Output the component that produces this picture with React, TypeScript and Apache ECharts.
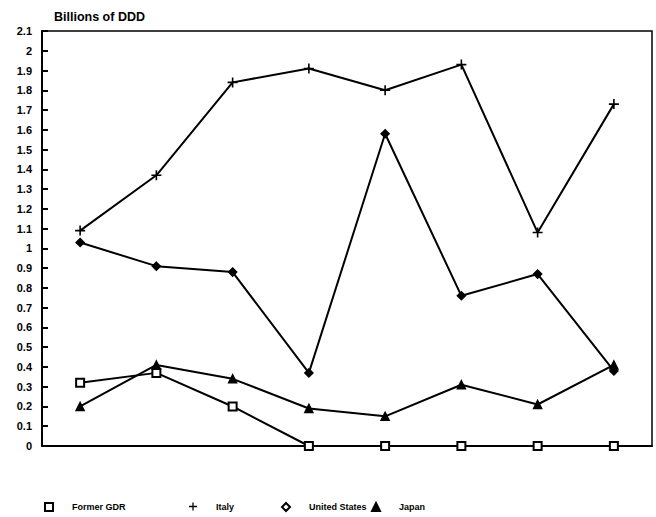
import React, { useEffect, useRef } from "react";
import * as echarts from "echarts";

const categories = ["1", "2", "3", "4", "5", "6", "7", "8"];
const formerGDR = [0.32, 0.37, 0.2, 0, 0, 0, 0, 0];
const italy = [1.09, 1.37, 1.84, 1.91, 1.8, 1.93, 1.08, 1.73];
const unitedStates = [1.03, 0.91, 0.88, 0.37, 1.58, 0.76, 0.87, 0.38];
const japan = [0.2, 0.41, 0.34, 0.19, 0.15, 0.31, 0.21, 0.41];
const seriesNames = ["Former GDR", "Italy", "United States", "Japan"];

const CROSS = "path://M4.2,0h1.6v4.2h4.2v1.6h-4.2v4.2h-1.6v-4.2h-4.2v-1.6h4.2z";
const FONT = "Liberation Sans, Arial, sans-serif";

export default function App() {
  const ref = useRef<HTMLDivElement>(null);
  useEffect(() => {
    if (!ref.current) return;
    const chart = echarts.init(ref.current, undefined, { renderer: "svg" });
    const lineStyle = { color: "#000", width: 2 };
    const mk = (name: string, data: number[], symbol: string, size: number, fill: string, bw: number) => ({
      name,
      type: "line",
      data,
      symbol,
      symbolSize: size,
      showAllSymbol: true,
      lineStyle,
      itemStyle: { color: fill, borderColor: "#000", borderWidth: bw },
      z: 3,
    });
    const legendLefts = [44, 189, 281, 371];
    const icons = ["rect", CROSS, "diamond", "triangle"];
    chart.setOption({
      animation: false,
      backgroundColor: "#fff",
      title: {
        text: "Billions of DDD",
        left: 49,
        top: 5,
        textStyle: { fontSize: 12.5, fontWeight: "bold", color: "#000", fontFamily: FONT },
      },
      legend: seriesNames.map((n, i) => ({
        data: [{ name: n, icon: icons[i] }],
        left: legendLefts[i],
        top: 502,
        padding: 0,
        itemWidth: 8,
        itemHeight: 8,
        itemGap: 0,
        textStyle: { fontSize: 9, fontWeight: "bold", color: "#000", fontFamily: FONT, padding: [0, 0, 0, 14] },
        itemStyle: {
          color: i === 0 || i === 2 ? "#fff" : "#000",
          borderColor: "#000",
          borderWidth: i === 1 ? 0 : 2,
        },
      })),
      grid: {
        left: 42,
        right: 4,
        top: 31,
        bottom: 71,
        show: true,
        borderColor: "#000",
        borderWidth: 1.5,
        backgroundColor: "transparent",
      },
      xAxis: {
        type: "category",
        data: categories,
        boundaryGap: true,
        axisLine: { lineStyle: { color: "#000", width: 2 } },
        axisTick: { inside: true, alignWithLabel: true, interval: 0, length: 6, lineStyle: { color: "#000", width: 2 } },
        axisLabel: { show: false },
        splitLine: { show: false },
      },
      yAxis: {
        type: "value",
        min: 0,
        max: 2.1,
        interval: 0.1,
        axisLine: { show: true, lineStyle: { color: "#000", width: 2 } },
        axisTick: { show: true, inside: true, length: 6, lineStyle: { color: "#000", width: 2 } },
        axisLabel: {
          color: "#000",
          fontSize: 11,
          fontWeight: "bold",
          fontFamily: FONT,
          margin: 10,
          formatter: (v: number) => String(parseFloat(v.toFixed(1))),
        },
        splitLine: { show: false },
      },
      series: [
        mk("Former GDR", formerGDR, "rect", 8, "#fff", 2),
        mk("Italy", italy, CROSS, 10, "#000", 0),
        mk("United States", unitedStates, "diamond", 8, "#000", 1.5),
        mk("Japan", japan, "triangle", 8, "#000", 1.5),
      ],
    });
    return () => chart.dispose();
  }, []);
  return <div ref={ref} style={{ position: "absolute", left: 0, top: 0, width: 656, height: 517 }} />;
}
